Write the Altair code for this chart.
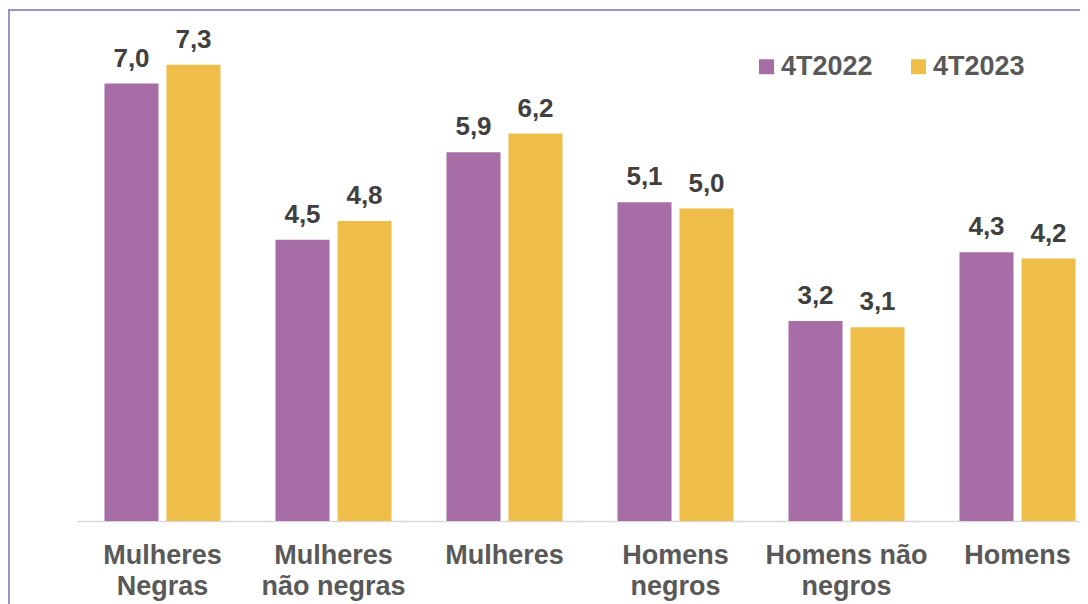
import altair as alt
import pandas as pd

categories = ["Mulheres|Negras", "Mulheres|não negras", "Mulheres", "Homens|negros", "Homens não|negros", "Homens"]
series = ["4T2022", "4T2023"]
values_2022 = [7.0, 4.5, 5.9, 5.1, 3.2, 4.3]
values_2023 = [7.3, 4.8, 6.2, 5.0, 3.1, 4.2]
colors = ["#A66DA6", "#EEBE48"]

rows = []
for c, a, b in zip(categories, values_2022, values_2023):
    for s, v in zip(series, (a, b)):
        rows.append({"cat": c, "serie": s, "valor": v, "rotulo": f"{v:.1f}".replace(".", ",")})
df = pd.DataFrame(rows)

FONT = "Liberation Sans"

x_enc = alt.X(
    "cat:N",
    sort=categories,
    scale=alt.Scale(range=[0, 1026], paddingInner=0.3216, paddingOuter=0.1608),
    axis=alt.Axis(
        title=None,
        labelExpr="split(datum.label, '|')",
        labelFont=FONT,
        labelFontSize=27,
        labelFontWeight="bold",
        labelColor="#595959",
        labelLineHeight=31,
        labelPadding=21,
        labelAngle=0,
        ticks=False,
        domainColor="#D9D9D9",
        domainWidth=1.5,
        grid=False,
    ),
)
xoff = alt.XOffset("serie:N", sort=series, scale=alt.Scale(paddingInner=0.129, paddingOuter=0))
y_enc = alt.Y("valor:Q", scale=alt.Scale(domain=[0, 8]), axis=None)

bars = alt.Chart(df).mark_bar().encode(
    x=x_enc,
    xOffset=xoff,
    y=y_enc,
    color=alt.Color(
        "serie:N",
        sort=series,
        scale=alt.Scale(domain=series, range=colors),
        legend=alt.Legend(
            title=None,
            orient="none",
            legendX=676,
            legendY=32,
            direction="horizontal",
            symbolType="square",
            symbolSize=225,
            symbolStrokeWidth=0,
            labelFont=FONT,
            labelFontSize=27,
            labelFontWeight="bold",
            labelColor="#595959",
            labelOffset=1,
            columnPadding=32,
            padding=0,
        ),
    ),
)

labels = alt.Chart(df).mark_text(
    font=FONT, fontSize=26, fontWeight="bold", color="#404040", baseline="bottom", dy=-12
).encode(x=x_enc, xOffset=xoff, y=y_enc, text="rotulo:N")

frame = alt.Chart(df).mark_rect(fill=None, stroke="#9C91C6", strokeWidth=2).encode(
    x=alt.value(-68), y=alt.value(-11), x2=alt.value(1200), y2=alt.value(800)
)

chart = (
    alt.layer(frame, bars, labels)
    .properties(
        width=1003,
        height=500,
        autosize=alt.AutoSizeParams(type="none"),
        padding={"left": 69, "top": 13, "right": 0, "bottom": 83},
        background="white",
    )
    .configure_view(strokeWidth=0)
)

chart.save("out.html", embed_options={"renderer": "svg", "actions": False})
